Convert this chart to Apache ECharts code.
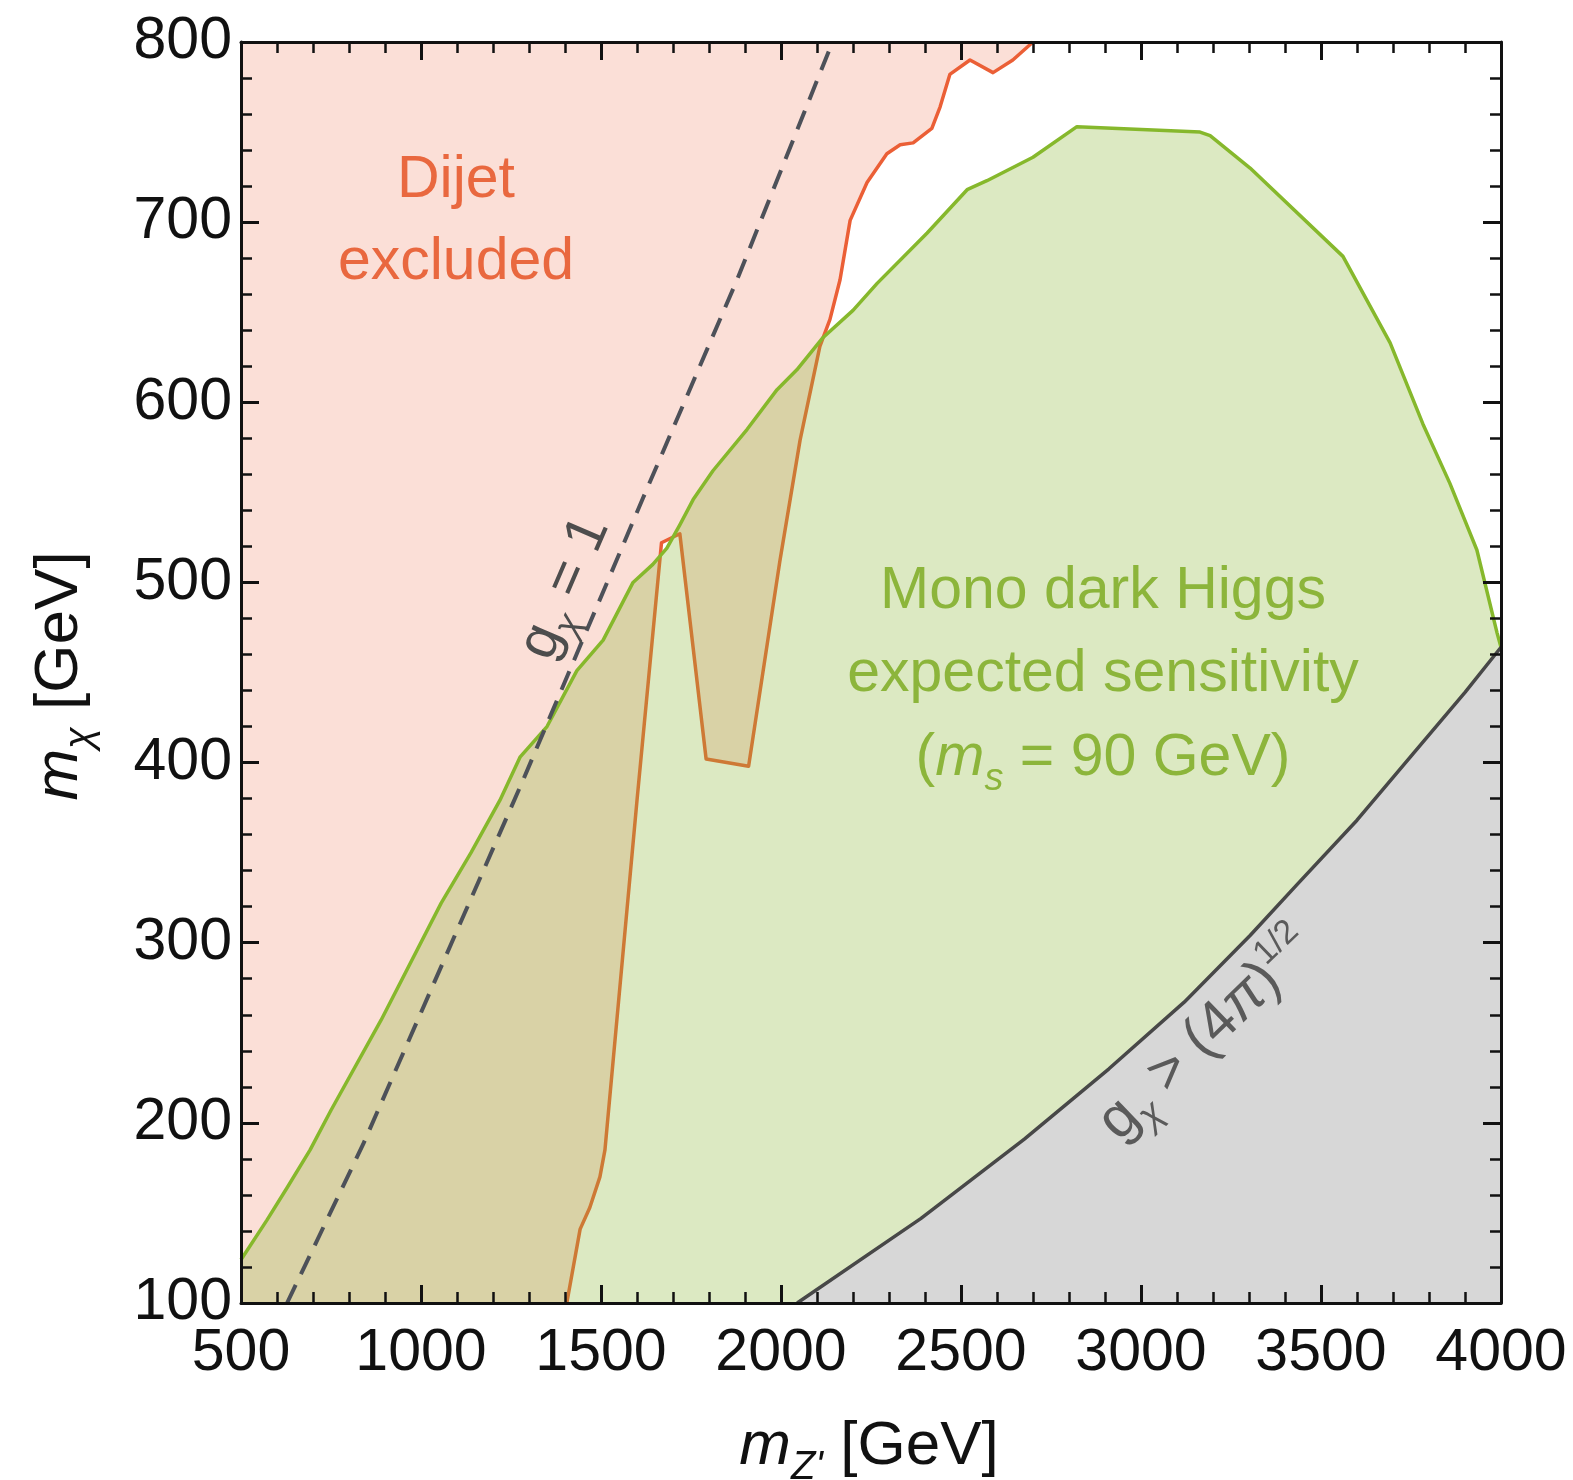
<!DOCTYPE html>
<html>
<head>
<meta charset="utf-8">
<script src="https://cdn.jsdelivr.net/npm/echarts@6/dist/echarts.min.js"></script>
<style>
html,body{margin:0;padding:0;background:#fff;}
#chart{width:1573px;height:1480px;}
</style>
</head>
<body>
<div id="chart"></div>
<script>
// ---- data (GeV) ----
const xTickValues = [500, 1000, 1500, 2000, 2500, 3000, 3500, 4000];
const xTickLabels = ['500', '1000', '1500', '2000', '2500', '3000', '3500', '4000'];
const yTickValues = [100, 200, 300, 400, 500, 600, 700, 800];
const yTickLabels = ['100', '200', '300', '400', '500', '600', '700', '800'];

// Dijet exclusion boundary (m_Z', m_chi)
const dijetMZ   = [1405, 1442, 1469, 1497, 1511, 1600, 1668, 1719, 1792, 1910, 1997, 2053, 2108, 2136, 2164, 2192, 2239, 2294, 2331, 2367, 2419, 2442, 2469, 2525, 2589, 2644, 2700];
const dijetMChi = [100, 141, 153, 170, 185, 379, 522, 527, 402, 398, 512, 579, 631, 646, 668, 701, 722, 738, 743, 744, 752, 764, 782, 790, 783, 790, 800];

// Mono dark Higgs expected sensitivity boundary
const monoMZ   = [500, 572, 628, 692, 750, 889, 1056, 1139, 1219, 1275, 1350, 1433, 1506, 1589, 1644, 1683, 1719, 1756, 1811, 1906, 1989, 2044, 2117, 2200, 2267, 2406, 2517, 2572, 2700, 2822, 3164, 3192, 3303, 3561, 3692, 3783, 3858, 3933, 3989, 4000];
const monoMChi = [124, 146, 164, 185, 207, 257, 322, 350, 379, 403, 420, 451, 468, 500, 510, 519, 532, 546, 562, 585, 607, 618, 636, 651, 666, 694, 718, 723, 736, 753, 750, 748, 730, 681, 633, 588, 555, 518, 472, 464];

// g_chi > (4 pi)^(1/2) boundary
const pertMZ   = [2045, 2389, 2676, 2911, 3120, 3303, 3432, 3600, 3756, 3900, 4000];
const pertMChi = [100, 147, 191, 230, 267, 304, 332, 368, 405, 439, 464];

// g_chi = 1 contour
const gOneMZ   = [628, 839, 1283, 1617, 1878, 2143];
const gOneMChi = [100, 188, 390, 547, 668, 800];

// ---- helpers ----
const zip = (a, b) => a.map((v, i) => [v, b[i]]);
const FAM = '"Liberation Sans", Arial, Helvetica, sans-serif';
const measureCtx = document.createElement('canvas').getContext('2d');
function fontOf(s) { return (s.italic ? 'italic ' : '') + s.size + 'px ' + FAM; }
function textLine(segs, cx, cy, rot, color) {
  const widths = segs.map(s => { measureCtx.font = fontOf(s); return measureCtx.measureText(s.text).width; });
  const total = widths.reduce((a, b) => a + b, 0);
  let x = -total / 2;
  const children = segs.map((s, i) => {
    const el = {
      type: 'text', x: x, y: s.dy || 0, z: 100,
      style: { text: s.text, font: fontOf(s), fill: color,
        textAlign: 'left', textVerticalAlign: 'middle', align: 'left', verticalAlign: 'middle' }
    };
    x += widths[i];
    return el;
  });
  return { type: 'group', x: cx, y: cy, rotation: rot || 0, children: children, z: 100 };
}

const chart = echarts.init(document.getElementById('chart'), null, { renderer: 'canvas' });

function polygonSeries(points, fill, z) {
  return {
    type: 'custom', coordinateSystem: 'cartesian2d', xAxisIndex: 0, yAxisIndex: 0,
    data: [[points[0][0], points[0][1]]], silent: true, z: z, clip: true,
    renderItem: function (params, api) {
      return { type: 'polygon', shape: { points: points.map(p => api.coord(p)) }, style: { fill: fill }, silent: true };
    }
  };
}
function lineSeries(xs, ys, color, width, z, dash) {
  return {
    type: 'line', data: zip(xs, ys), showSymbol: false, symbol: 'none', silent: true, z: z,
    lineStyle: { color: color, width: width, type: dash || 'solid', cap: 'butt', join: 'round' },
    xAxisIndex: 0, yAxisIndex: 0
  };
}

const dijetPoly = [[500, 100]].concat(zip(dijetMZ, dijetMChi)).concat([[500, 800]]);
const monoPoly = zip(monoMZ, monoMChi).concat(zip(pertMZ, pertMChi).reverse()).concat([[500, 100]]);
const pertPoly = zip(pertMZ, pertMChi).concat([[4000, 100]]);

const axisColor = '#111';
function xAxisCfg(pos, labels) {
  return {
    type: 'value', position: pos, min: 500, max: 4000, interval: 500, z: 20,
    axisLine: { show: true, onZero: false, lineStyle: { color: axisColor, width: 3 } },
    axisTick: { show: true, inside: true, length: 18, lineStyle: { color: axisColor, width: 3 } },
    minorTick: { show: true, splitNumber: 5, length: 11, lineStyle: { color: axisColor, width: 2.5 } },
    splitLine: { show: false }, minorSplitLine: { show: false },
    axisLabel: { show: labels, margin: 21, fontSize: 59, fontFamily: FAM, color: '#111', showMinLabel: true, showMaxLabel: true,
      formatter: v => { const i = xTickValues.indexOf(v); return i >= 0 ? xTickLabels[i] : ''; } }
  };
}
function yAxisCfg(pos, labels) {
  return {
    type: 'value', position: pos, min: 100, max: 800, interval: 100, z: 20,
    axisLine: { show: true, onZero: false, lineStyle: { color: axisColor, width: 3 } },
    axisTick: { show: true, inside: true, length: 18, lineStyle: { color: axisColor, width: 3 } },
    minorTick: { show: true, splitNumber: 5, length: 11, lineStyle: { color: axisColor, width: 2.5 } },
    splitLine: { show: false }, minorSplitLine: { show: false },
    axisLabel: { show: labels, margin: 9, fontSize: 59, fontFamily: FAM, color: '#111', showMinLabel: true, showMaxLabel: true,
      formatter: v => { const i = yTickValues.indexOf(v); return i >= 0 ? yTickLabels[i] : ''; } }
  };
}

const deg = Math.PI / 180;
const orange = '#e9683f';
const green = '#8cb53b';

const option = {
  animation: false,
  backgroundColor: '#ffffff',
  grid: { left: 241, right: 72, top: 42, bottom: 177, containLabel: false },
  xAxis: [xAxisCfg('bottom', true), xAxisCfg('top', false)],
  yAxis: [yAxisCfg('left', true), yAxisCfg('right', false)],
  series: [
    polygonSeries(dijetPoly, 'rgba(234,95,55,0.2)', 1),
    lineSeries(dijetMZ, dijetMChi, '#eb5f36', 3.5, 2),
    polygonSeries(monoPoly, 'rgba(138,182,52,0.3)', 3),
    lineSeries(monoMZ, monoMChi, '#86b82c', 3.5, 4),
    polygonSeries(pertPoly, '#d7d7d7', 5),
    lineSeries(pertMZ, pertMChi, '#484848', 3.5, 6),
    lineSeries(gOneMZ, gOneMChi, '#4d5159', 4, 7, [20, 12])
  ],
  graphic: { elements: [
    textLine([{ text: 'Dijet', size: 59 }], 456, 181, 0, orange),
    textLine([{ text: 'excluded', size: 59 }], 456, 263, 0, orange),
    textLine([{ text: 'Mono dark Higgs', size: 59 }], 1103, 592, 0, green),
    textLine([{ text: 'expected sensitivity', size: 59 }], 1103, 675, 0, green),
    textLine([{ text: '(', size: 59 }, { text: 'm', size: 59, italic: true }, { text: 's', size: 38, italic: true, dy: 20 }, { text: ' = 90 GeV)', size: 59 }], 1103, 759, 0, green),
    textLine([{ text: 'g', size: 57 }, { text: 'χ', size: 37, italic: true, dy: 19 }, { text: ' = 1', size: 57 }], 565, 588, 66.7 * deg, '#4d4d4d'),
    textLine([{ text: 'g', size: 58 }, { text: 'χ', size: 37, italic: true, dy: 19 }, { text: ' > (4', size: 58 }, { text: 'π', size: 58, italic: true }, { text: ')', size: 58 }, { text: '1/2', size: 34, dy: -18 }], 1207, 1035, 44 * deg, '#5a5a5a'),
    textLine([{ text: 'm', size: 62, italic: true }, { text: "Z'", size: 40, italic: true, dy: 21 }, { text: ' [GeV]', size: 62 }], 869, 1447, 0, '#111'),
    textLine([{ text: 'm', size: 62, italic: true }, { text: 'χ', size: 40, italic: true, dy: 21 }, { text: ' [GeV]', size: 62 }], 60, 676, 90 * deg, '#111')
  ] }
};
chart.setOption(option);
</script>
</body>
</html>
